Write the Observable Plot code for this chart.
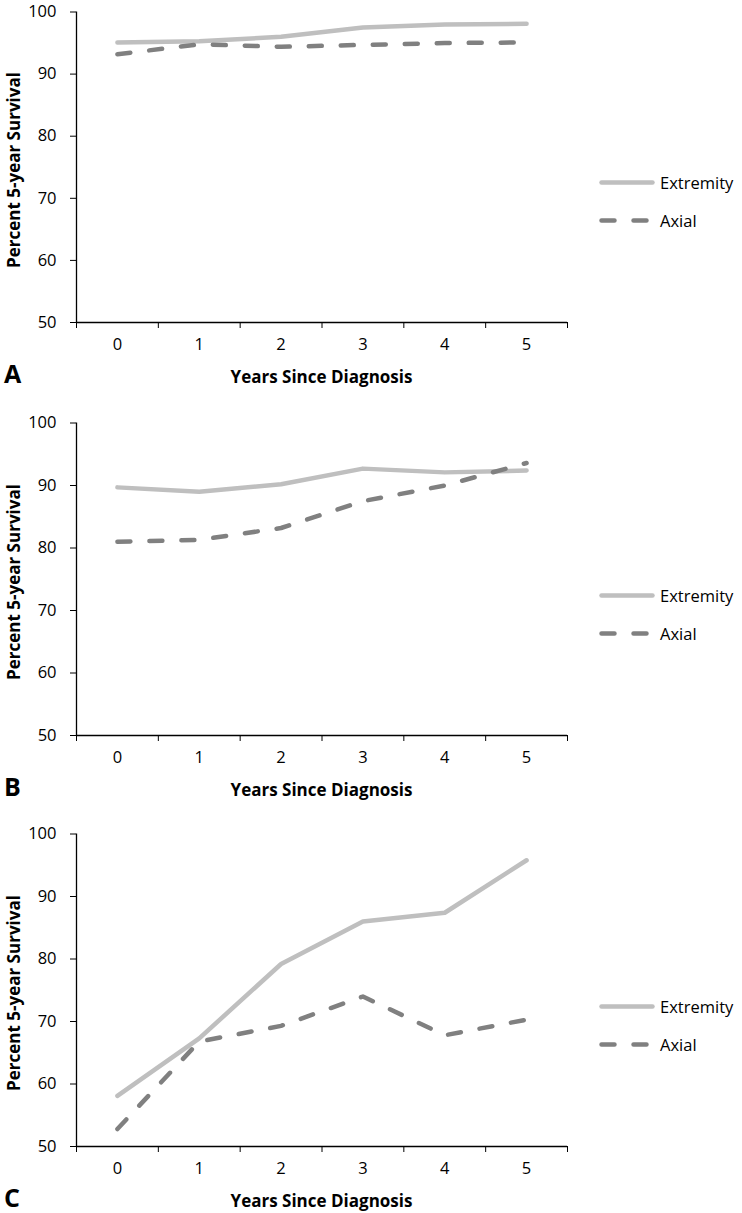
<!DOCTYPE html>
<html>
<head>
<meta charset="utf-8">
<script src="https://cdn.jsdelivr.net/npm/d3@7"></script>
<script src="https://cdn.jsdelivr.net/npm/@observablehq/plot@0.6"></script>
<style>
  html, body { margin: 0; padding: 0; background: #fff; }
  #root { position: relative; width: 742px; height: 1213px; font-family: "Open Sans", Lato, sans-serif; color: #000; }
  .panel { position: absolute; left: 0; width: 742px; }
  .panel svg { display: block; overflow: visible; }
  .ytitle { position: absolute; left: 13px; font-weight: bold; font-size: 17px; white-space: nowrap;
            transform: translate(-50%, -50%) rotate(-90deg); }
  .xtitle { position: absolute; font-weight: bold; font-size: 17px; white-space: nowrap; transform: translate(-50%, -50%); }
  .letter { position: absolute; left: 4px; font-weight: bold; font-size: 25px; transform: translateY(-50%); }
  .leg { position: absolute; left: 599px; display: flex; align-items: center; font-size: 16.5px; transform: translateY(-50%); }
  .leg svg { margin-right: 5px; }
</style>
</head>
<body>
<div id="root"></div>
<script>
const years = [0, 1, 2, 3, 4, 5];
const yTicks = [50, 60, 70, 80, 90, 100];
const panelLetters = ["A", "B", "C"];
const seriesNames = ["Extremity", "Axial"];
const aExtremity = [95.1, 95.3, 96.0, 97.5, 98.0, 98.1];
const aAxial     = [93.2, 94.8, 94.4, 94.7, 95.0, 95.1];
const bExtremity = [89.7, 89.0, 90.2, 92.7, 92.1, 92.4];
const bAxial     = [81.0, 81.3, 83.2, 87.5, 90.0, 93.6];
const cExtremity = [58.1, 67.3, 79.2, 86.0, 87.4, 95.8];
const cAxial     = [52.8, 66.8, 69.3, 74.0, 67.8, 70.3];

const panels = [
  {ext: aExtremity, ax: aAxial},
  {ext: bExtremity, ax: bAxial},
  {ext: cExtremity, ax: cAxial}
];
const tops = [0, 413, 824];
const topMargins = [11.5, 9.5, 9.5];
const H = 389, marginBottom = 67, marginLeft = 76, marginRight = 175;
const extColor = "#BFBFBF", axColor = "#808080";
const dash = "13,19";
const boundaries = years.map(d => d - 0.5).concat([years[years.length - 1] + 0.5]);

const root = document.getElementById("root");

panels.forEach((p, i) => {
  const marginTop = topMargins[i];
  const rows = years.map((y, k) => ({year: y, ext: p.ext[k], ax: p.ax[k]}));
  const chart = Plot.plot({
    width: 742,
    height: H,
    marginTop, marginBottom, marginLeft, marginRight,
    style: {fontFamily: "'Open Sans', Lato, sans-serif", fontSize: "16.5px", color: "#000", background: "#fff", overflow: "visible"},
    x: {domain: [boundaries[0], boundaries[boundaries.length - 1]], axis: null},
    y: {domain: [50, 100], axis: null},
    marks: [
      Plot.axisY({ticks: yTicks, tickSize: 6, tickPadding: 14, label: null, stroke: "#000", fontSize: 16.5}),
      Plot.axisX({ticks: boundaries, tickSize: 6, tickFormat: () => "", label: null}),
      Plot.axisX({ticks: years, tickSize: 0, tickPadding: 16, label: null, tickFormat: d3.format("d"), fontSize: 16.5}),
      Plot.ruleX([boundaries[0]], {stroke: "#000", strokeWidth: 1.3}),
      Plot.ruleY([50], {stroke: "#000", strokeWidth: 1.3}),
      Plot.line(rows, {x: "year", y: "ext", stroke: extColor, strokeWidth: 4.5, strokeLinecap: "round", strokeLinejoin: "round"}),
      Plot.line(rows, {x: "year", y: "ax", stroke: axColor, strokeWidth: 4.5, strokeDasharray: dash, strokeLinecap: "round", strokeLinejoin: "round"})
    ]
  });
  const div = document.createElement("div");
  div.className = "panel";
  div.style.top = tops[i] + "px";
  div.style.height = H + "px";
  div.appendChild(chart);

  const yt = document.createElement("div");
  yt.className = "ytitle";
  yt.style.top = ((marginTop + (H - marginBottom)) / 2 + 3) + "px";
  yt.textContent = "Percent 5-year Survival";
  div.appendChild(yt);

  const xt = document.createElement("div");
  xt.className = "xtitle";
  xt.style.left = ((marginLeft + (742 - marginRight)) / 2) + "px";
  xt.style.top = "376px";
  xt.textContent = "Years Since Diagnosis";
  div.appendChild(xt);

  const lt = document.createElement("div");
  lt.className = "letter";
  lt.style.top = "373px";
  lt.textContent = panelLetters[i];
  div.appendChild(lt);

  [[seriesNames[0], extColor, null, 182], [seriesNames[1], axColor, "13,19", 220]].forEach(([name, col, da, yy]) => {
    const lg = document.createElement("div");
    lg.className = "leg";
    lg.style.top = yy + "px";
    lg.innerHTML = `<svg width="56" height="8"><line x1="2.5" y1="4" x2="${da ? 50.5 : 53.5}" y2="4" stroke="${col}" stroke-width="4.5" stroke-linecap="round" ${da ? `stroke-dasharray="${da}"` : ""}/></svg><span>${name}</span>`;
    div.appendChild(lg);
  });

  root.appendChild(div);
});
</script>
</body>
</html>
